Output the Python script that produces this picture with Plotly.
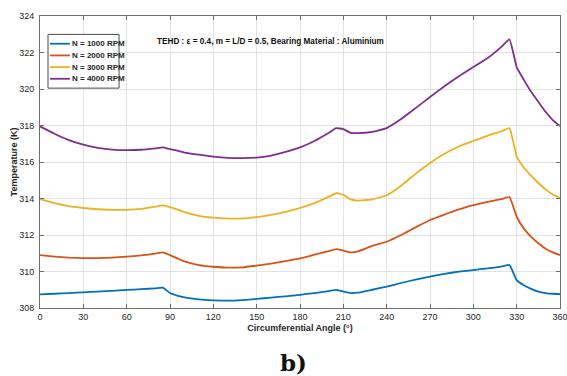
import plotly.graph_objects as go

# Circumferential angle (deg)
angle = [0, 10, 20, 30, 40, 50, 60, 70, 80, 85, 90, 95, 100, 110, 120, 130, 140, 150,
         160, 170, 180, 190, 200, 205, 210, 215, 220, 230, 240, 250, 260, 270, 280,
         290, 300, 310, 320, 325, 330, 335, 340, 345, 350, 355, 360]

# Bush temperature (K) for each shaft speed
t_1000 = [308.75, 308.78, 308.82, 308.86, 308.90, 308.94, 308.99, 309.03, 309.08, 309.11,
          308.82, 308.68, 308.58, 308.47, 308.42, 308.40, 308.43, 308.50, 308.57, 308.64,
          308.72, 308.82, 308.93, 308.99, 308.90, 308.82, 308.84, 309.00, 309.17, 309.37,
          309.56, 309.72, 309.87, 309.99, 310.08, 310.17, 310.28, 310.36, 309.53, 309.25,
          309.05, 308.90, 308.82, 308.78, 308.76]
t_2000 = [310.90, 310.82, 310.76, 310.73, 310.73, 310.76, 310.81, 310.88, 310.98, 311.05,
          310.90, 310.72, 310.55, 310.35, 310.26, 310.21, 310.23, 310.32, 310.43, 310.57,
          310.72, 310.92, 311.12, 311.23, 311.15, 311.05, 311.10, 311.40, 311.63, 312.00,
          312.42, 312.82, 313.12, 313.40, 313.64, 313.82, 313.98, 314.08, 313.00, 312.35,
          311.90, 311.55, 311.25, 311.05, 310.90]
t_3000 = [313.97, 313.75, 313.58, 313.48, 313.41, 313.38, 313.38, 313.43, 313.55, 313.62,
          313.53, 313.40, 313.25, 313.05, 312.95, 312.90, 312.90, 312.98, 313.10, 313.27,
          313.48, 313.75, 314.10, 314.30, 314.20, 313.95, 313.88, 313.95, 314.18, 314.70,
          315.35, 315.95, 316.45, 316.85, 317.15, 317.45, 317.70, 317.86, 316.30, 315.70,
          315.25, 314.85, 314.50, 314.22, 314.03]
t_4000 = [317.95, 317.55, 317.20, 316.95, 316.78, 316.68, 316.65, 316.67, 316.75, 316.80,
          316.70, 316.62, 316.52, 316.40, 316.30, 316.23, 316.21, 316.24, 316.35, 316.55,
          316.80, 317.15, 317.60, 317.85, 317.80, 317.60, 317.58, 317.65, 317.86, 318.35,
          318.95, 319.56, 320.15, 320.70, 321.20, 321.70, 322.35, 322.72, 321.20, 320.50,
          319.85, 319.30, 318.75, 318.30, 317.97]

series_names = ["N = 1000 RPM", "N = 2000 RPM", "N = 3000 RPM", "N = 4000 RPM"]
series_values = [t_1000, t_2000, t_3000, t_4000]
series_colors = ["#0072BD", "#D95319", "#EDB120", "#7E2F8E"]

x_ticks = list(range(0, 361, 30))
y_ticks = list(range(308, 325, 2))

FONT = "Liberation Sans, Arial, sans-serif"
INK = "#262626"

fig = go.Figure()
for name, vals, col in zip(series_names, series_values, series_colors):
    fig.add_trace(go.Scatter(x=angle, y=vals, mode="lines", name=name,
                             line=dict(color=col, width=1.8, shape="spline", smoothing=0.4),
                             showlegend=False))

# Compact legend box in paper coordinates
lg_x0, lg_x1 = 0.0154, 0.152
lg_top, lg_step = 0.925, 0.04
fig.add_shape(type="rect", xref="paper", yref="paper",
              x0=lg_x0, x1=lg_x1, y0=lg_top - lg_step * len(series_names) - 0.012,
              y1=lg_top + 0.012, line=dict(color="#4d4d4d", width=1), fillcolor="white")
for i, (name, col) in enumerate(zip(series_names, series_colors)):
    yy = lg_top - lg_step * (i + 0.5)
    fig.add_shape(type="line", xref="paper", yref="paper",
                  x0=lg_x0 + 0.004, x1=lg_x0 + 0.042, y0=yy, y1=yy,
                  line=dict(color=col, width=1.8))
    fig.add_annotation(x=lg_x0 + 0.043, y=yy, xref="paper", yref="paper",
                       text=f"<b>{name}</b>", showarrow=False, xanchor="left",
                       yanchor="middle", font=dict(family=FONT, size=8, color=INK))

fig.add_annotation(x=0.221, y=0.911, xref="paper", yref="paper",
                   text="<b>TEHD : ε = 0.4, m = L/D = 0.5, Bearing Material : Aluminium</b>",
                   showarrow=False, xanchor="left", yanchor="middle",
                   font=dict(family=FONT, size=8.2, color="#111111"))

fig.add_annotation(x=0.487, y=-0.185, xref="paper", yref="paper", text="<b>b)</b>",
                   showarrow=False, xanchor="center", yanchor="middle",
                   font=dict(family="DejaVu Serif, Liberation Serif, serif", size=23,
                             color="#111111"))

axis_common = dict(showgrid=True, gridcolor="#e3e3e3", gridwidth=1,
                   showline=True, linecolor="#6e6e6e", linewidth=1, mirror="ticks",
                   ticks="inside", ticklen=4, tickcolor="#6e6e6e", zeroline=False,
                   ticklabeloverflow="allow", automargin=False,
                   tickfont=dict(family=FONT, size=9, color=INK))

fig.update_xaxes(range=[0, 360], tickvals=x_ticks,
                 title=dict(text="<b>Circumferential Angle (°)</b>", standoff=3,
                            font=dict(family=FONT, size=9, color=INK)),
                 **axis_common)
fig.update_yaxes(range=[308, 324], tickvals=y_ticks, ticklabelstandoff=3,
                 title=dict(text="<b>Temperature (K)</b>", standoff=0,
                            font=dict(family=FONT, size=9, color=INK)),
                 **axis_common)

fig.update_layout(width=567, height=376, margin=dict(l=40, r=7, t=16, b=68),
                  paper_bgcolor="white", plot_bgcolor="white",
                  font=dict(family=FONT, color=INK))

fig.write_html("out.html")
